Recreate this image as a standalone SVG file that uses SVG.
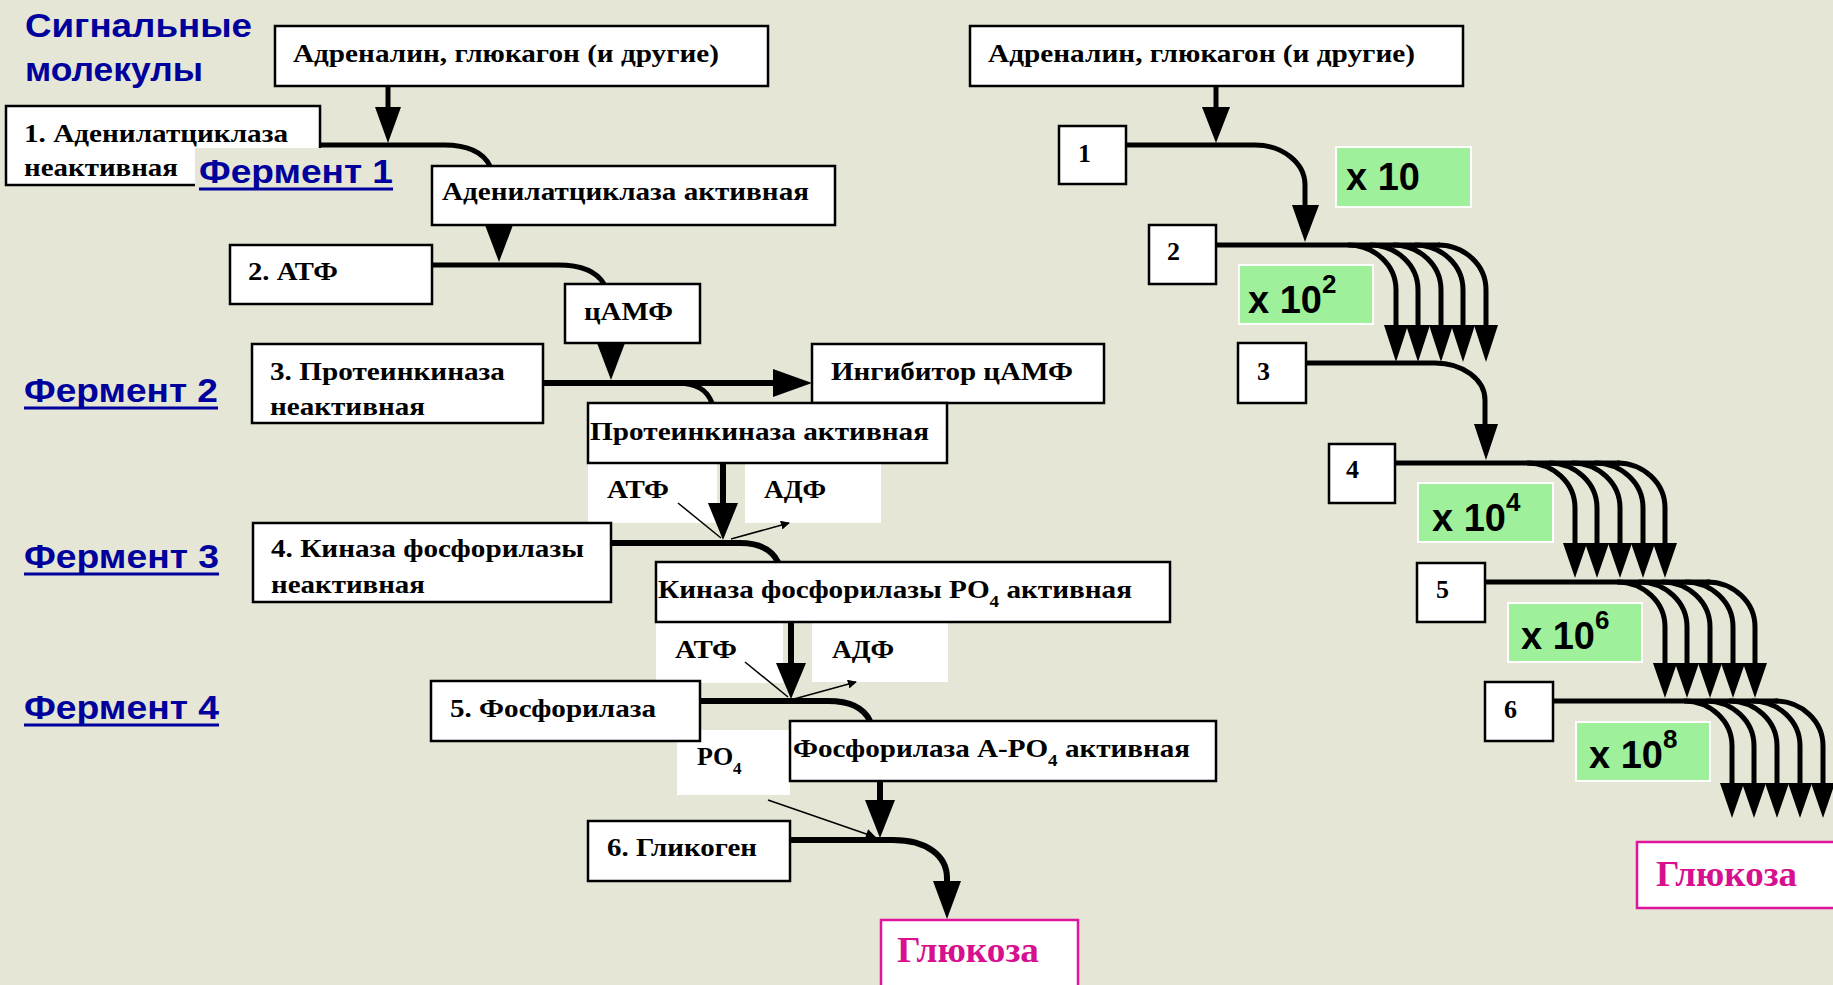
<svg xmlns="http://www.w3.org/2000/svg" width="1833" height="985" viewBox="0 0 1833 985">
<defs>
<style>
.bx{fill:#fff;stroke:#000;stroke-width:2.5}
.wh{fill:#fff;stroke:none}
.gr{fill:#9ef09a;stroke:#fff;stroke-width:2}
.t{font-family:"Liberation Serif","Times New Roman",serif;font-weight:bold;font-size:26px;fill:#000}
.g{font-family:"Liberation Sans",Arial,sans-serif;font-weight:bold;font-size:38px;fill:#000}
.sup{font-size:26px}
.bl{font-family:"Liberation Sans",Arial,sans-serif;font-weight:bold;font-size:34px;fill:#00009c}
.ul{stroke:#00009c;stroke-width:3}
.gl{font-family:"Liberation Serif","Times New Roman",serif;font-weight:bold;font-size:35px;fill:#d6108f}
.mg{fill:#fff;stroke:#e0139b;stroke-width:2.5}
.c{fill:none;stroke:#000;stroke-width:5}
.c6{fill:none;stroke:#000;stroke-width:6}
.th{fill:none;stroke:#000;stroke-width:1.5}
.hd{fill:#000}
</style>
<marker id="sa" viewBox="0 0 10 10" refX="9" refY="5" markerWidth="9" markerHeight="9" markerUnits="userSpaceOnUse" orient="auto">
<path d="M0,0 L10,5 L0,10 z" fill="#000"/>
</marker>
<marker id="sb" viewBox="0 0 10 10" refX="9" refY="5" markerWidth="12" markerHeight="10" markerUnits="userSpaceOnUse" orient="auto">
<path d="M0,0 L10,5 L0,10 z" fill="#000"/>
</marker>
</defs>
<rect x="0" y="0" width="1833" height="985" fill="#e5e6d6"/>

<g id="title">
<text class="bl" x="25" y="37" textLength="227" lengthAdjust="spacingAndGlyphs">Сигнальные</text>
<text class="bl" x="25" y="81" textLength="178" lengthAdjust="spacingAndGlyphs">молекулы</text>
</g>

<!-- white label patches -->
<g id="labels-white">
<rect class="wh" x="588" y="463" width="129" height="60"/>
<rect class="wh" x="745" y="463" width="136" height="60"/>
<rect class="wh" x="656" y="622" width="127" height="61"/>
<rect class="wh" x="812" y="622" width="136" height="60"/>
<rect class="wh" x="677" y="730" width="113" height="65"/>
</g>

<g id="n-adr-left">
<rect class="bx" x="275" y="26" width="493" height="60"/>
<text class="t" x="293" y="62" textLength="426" lengthAdjust="spacingAndGlyphs">Адреналин, глюкагон (и другие)</text>
</g>
<g id="n1">
<rect class="bx" x="6" y="106" width="314" height="79"/>
<text class="t" x="24" y="142" textLength="264" lengthAdjust="spacingAndGlyphs">1. Аденилатциклаза</text>
<text class="t" x="24" y="176" textLength="154" lengthAdjust="spacingAndGlyphs">неактивная</text>
</g>
<g id="ferment1">
<rect x="195" y="148" width="203" height="48" fill="#e5e6d6"/>
<text class="bl" x="199" y="183" textLength="194" lengthAdjust="spacingAndGlyphs">Фермент 1</text>
<line class="ul" x1="199" y1="189" x2="393" y2="189"/>
</g>
<g id="n-ac-act">
<rect class="bx" x="432" y="166" width="403" height="59"/>
<text class="t" x="442" y="200" textLength="367" lengthAdjust="spacingAndGlyphs">Аденилатциклаза активная</text>
</g>
<g id="n2">
<rect class="bx" x="230" y="245" width="202" height="59"/>
<text class="t" x="248" y="280" textLength="90" lengthAdjust="spacingAndGlyphs">2. АТФ</text>
</g>
<g id="n-camp">
<rect class="bx" x="565" y="284" width="135" height="59"/>
<text class="t" x="584" y="320" textLength="89" lengthAdjust="spacingAndGlyphs">цАМФ</text>
</g>
<g id="ferment2">
<text class="bl" x="24" y="402" textLength="194" lengthAdjust="spacingAndGlyphs">Фермент 2</text>
<line class="ul" x1="24" y1="408" x2="218" y2="408"/>
</g>
<g id="n3">
<rect class="bx" x="252" y="344" width="291" height="79"/>
<text class="t" x="270" y="380" textLength="235" lengthAdjust="spacingAndGlyphs">3. Протеинкиназа</text>
<text class="t" x="270" y="415" textLength="155" lengthAdjust="spacingAndGlyphs">неактивная</text>
</g>
<g id="n-inhib">
<rect class="bx" x="812" y="344" width="292" height="59"/>
<text class="t" x="831" y="380" textLength="242" lengthAdjust="spacingAndGlyphs">Ингибитор цАМФ</text>
</g>
<g id="n-pk-act">
<rect class="bx" x="588" y="403" width="359" height="60"/>
<text class="t" x="590" y="440" textLength="339" lengthAdjust="spacingAndGlyphs">Протеинкиназа активная</text>
</g>
<g id="l-atf1"><text class="t" x="607" y="498" textLength="62" lengthAdjust="spacingAndGlyphs">АТФ</text></g>
<g id="l-adf1"><text class="t" x="764" y="498" textLength="62" lengthAdjust="spacingAndGlyphs">АДФ</text></g>
<g id="ferment3">
<text class="bl" x="24" y="568" textLength="195" lengthAdjust="spacingAndGlyphs">Фермент 3</text>
<line class="ul" x1="24" y1="574" x2="219" y2="574"/>
</g>
<g id="n4">
<rect class="bx" x="253" y="523" width="358" height="79"/>
<text class="t" x="271" y="557" textLength="313" lengthAdjust="spacingAndGlyphs">4. Киназа фосфорилазы</text>
<text class="t" x="271" y="593" textLength="154" lengthAdjust="spacingAndGlyphs">неактивная</text>
</g>
<g id="n-kf-act">
<rect class="bx" x="656" y="562" width="514" height="60"/>
<text class="t" x="658" y="598" textLength="474" lengthAdjust="spacingAndGlyphs">Киназа фосфорилазы PO<tspan font-size="17" dy="9">4</tspan><tspan dy="-9"> активная</tspan></text>
</g>
<g id="l-atf2"><text class="t" x="675" y="658" textLength="62" lengthAdjust="spacingAndGlyphs">АТФ</text></g>
<g id="l-adf2"><text class="t" x="832" y="658" textLength="62" lengthAdjust="spacingAndGlyphs">АДФ</text></g>
<g id="ferment4">
<text class="bl" x="24" y="719" textLength="195" lengthAdjust="spacingAndGlyphs">Фермент 4</text>
<line class="ul" x1="24" y1="725" x2="219" y2="725"/>
</g>
<g id="n5">
<rect class="bx" x="431" y="681" width="269" height="60"/>
<text class="t" x="450" y="717" textLength="206" lengthAdjust="spacingAndGlyphs">5. Фосфорилаза</text>
</g>
<g id="n-ph-act">
<rect class="bx" x="790" y="721" width="426" height="60"/>
<text class="t" x="793" y="757" textLength="397" lengthAdjust="spacingAndGlyphs">Фосфорилаза А-PO<tspan font-size="17" dy="9">4</tspan><tspan dy="-9"> активная</tspan></text>
</g>
<g id="l-po4"><text class="t" x="697" y="765">PO<tspan font-size="17" dy="9">4</tspan></text></g>
<g id="n6">
<rect class="bx" x="588" y="821" width="202" height="60"/>
<text class="t" x="607" y="856" textLength="150" lengthAdjust="spacingAndGlyphs">6. Гликоген</text>
</g>
<g id="n-glc-left">
<rect class="mg" x="881" y="920" width="197" height="80"/>
<text class="gl" x="897" y="962" textLength="142" lengthAdjust="spacingAndGlyphs">Глюкоза</text>
</g>

<!-- right side nodes -->
<g id="n-adr-right">
<rect class="bx" x="970" y="26" width="493" height="60"/>
<text class="t" x="988" y="62" textLength="427" lengthAdjust="spacingAndGlyphs">Адреналин, глюкагон (и другие)</text>
</g>
<g id="r1"><rect class="bx" x="1059" y="126" width="67" height="58"/><text class="t" x="1078" y="162">1</text></g>
<g id="r2"><rect class="bx" x="1149" y="225" width="67" height="59"/><text class="t" x="1167" y="260">2</text></g>
<g id="r3"><rect class="bx" x="1238" y="343" width="68" height="60"/><text class="t" x="1257" y="380">3</text></g>
<g id="r4"><rect class="bx" x="1329" y="444" width="66" height="59"/><text class="t" x="1346" y="478">4</text></g>
<g id="r5"><rect class="bx" x="1417" y="563" width="68" height="59"/><text class="t" x="1436" y="598">5</text></g>
<g id="r6"><rect class="bx" x="1485" y="682" width="68" height="59"/><text class="t" x="1504" y="718">6</text></g>
<g id="m1"><rect class="gr" x="1336" y="147" width="135" height="60"/><text class="g" x="1346" y="190">x 10</text></g>
<g id="m2"><rect class="gr" x="1239" y="265" width="134" height="59"/><text class="g" x="1248" y="313">x 10<tspan class="sup" dy="-20">2</tspan></text></g>
<g id="m4"><rect class="gr" x="1418" y="483" width="135" height="59"/><text class="g" x="1432" y="531">x 10<tspan class="sup" dy="-20">4</tspan></text></g>
<g id="m6"><rect class="gr" x="1508" y="603" width="134" height="59"/><text class="g" x="1521" y="649">x 10<tspan class="sup" dy="-20">6</tspan></text></g>
<g id="m8"><rect class="gr" x="1576" y="722" width="134" height="59"/><text class="g" x="1589" y="768">x 10<tspan class="sup" dy="-20">8</tspan></text></g>
<g id="n-glc-right">
<rect class="mg" x="1637" y="842" width="210" height="66"/>
<text class="gl" x="1656" y="886" textLength="141" lengthAdjust="spacingAndGlyphs">Глюкоза</text>
</g>

<g id="connectors">
<!-- left cascade -->
<path class="c" d="M388,86 V110"/>
<polygon class="hd" points="375,107 401,107 388,143"/>
<path class="c" d="M320,145 H444 C468,145 483,152 490,166"/>
<polygon class="hd" points="485,225 513,225 499,262"/>
<path class="c" d="M432,265 H558 C583,265 597,272 604,284"/>
<polygon class="hd" points="597,343 625,343 611,380"/>
<path class="c6" d="M543,383 H776"/>
<polygon class="hd" points="773,369 812,383 773,397"/>
<path class="c" d="M676,383 C697,383 707,390 712,403"/>
<path class="c6" d="M723,463 V506"/>
<polygon class="hd" points="708,503 738,503 723,540"/>
<path class="th" d="M678,503 L721,538"/>
<path class="th" d="M731,539 L789,523" marker-end="url(#sa)"/>
<path class="c6" d="M611,543 H740 C760,543 772,550 778,562"/>
<path class="c6" d="M791,622 V665"/>
<polygon class="hd" points="776,663 806,663 791,699"/>
<path class="th" d="M745,662 L788,697"/>
<path class="th" d="M794,699 L856,682" marker-end="url(#sa)"/>
<path class="c6" d="M700,701 H828 C850,701 864,708 870,721"/>
<path class="c6" d="M880,781 V803"/>
<polygon class="hd" points="865,800 895,800 880,838"/>
<path class="th" d="M768,800 L875,837" marker-end="url(#sb)"/>
<path class="c6" d="M790,840 H893 C927,840 947,856 947,878 V885"/>
<polygon class="hd" points="933,881 961,881 947,919"/>

<!-- right cascade -->
<path class="c" d="M1216,86 V110"/>
<polygon class="hd" points="1202,107 1230,107 1216,143"/>
<path class="c" d="M1126,145 H1255 A50,40 0 0 1 1305,185 V207"/>
<polygon class="hd" points="1292,205 1319,205 1305,242"/>

<path class="c" d="M1216,245 H1440"/>
<path class="c" d="M1348,245 A48,45 0 0 1 1396,290 V327 M1370,245 A48,45 0 0 1 1418,290 V327 M1393,245 A48,45 0 0 1 1441,290 V327 M1415,245 A48,45 0 0 1 1463,290 V327 M1438,245 A48,45 0 0 1 1486,290 V327"/>
<polygon class="hd" points="1384,325 1408,325 1396,362"/>
<polygon class="hd" points="1406,325 1430,325 1418,362"/>
<polygon class="hd" points="1429,325 1453,325 1441,362"/>
<polygon class="hd" points="1451,325 1475,325 1463,362"/>
<polygon class="hd" points="1474,325 1498,325 1486,362"/>

<path class="c" d="M1306,363 H1435 A50,37 0 0 1 1485,400 V426"/>
<polygon class="hd" points="1474,424 1498,424 1486,460"/>

<path class="c" d="M1395,463 H1620"/>
<path class="c" d="M1527,463 A48,45 0 0 1 1575,508 V545 M1549,463 A48,45 0 0 1 1597,508 V545 M1572,463 A48,45 0 0 1 1620,508 V545 M1595,463 A48,45 0 0 1 1643,508 V545 M1617,463 A48,45 0 0 1 1665,508 V545"/>
<polygon class="hd" points="1563,543 1587,543 1575,578"/>
<polygon class="hd" points="1585,543 1609,543 1597,578"/>
<polygon class="hd" points="1608,543 1632,543 1620,578"/>
<polygon class="hd" points="1631,543 1655,543 1643,578"/>
<polygon class="hd" points="1653,543 1677,543 1665,578"/>

<path class="c" d="M1485,582 H1710"/>
<path class="c" d="M1617,582 A48,45 0 0 1 1665,627 V665 M1639,582 A48,45 0 0 1 1687,627 V665 M1662,582 A48,45 0 0 1 1710,627 V665 M1685,582 A48,45 0 0 1 1733,627 V665 M1707,582 A48,45 0 0 1 1755,627 V665"/>
<polygon class="hd" points="1653,663 1677,663 1665,698"/>
<polygon class="hd" points="1675,663 1699,663 1687,698"/>
<polygon class="hd" points="1698,663 1722,663 1710,698"/>
<polygon class="hd" points="1721,663 1745,663 1733,698"/>
<polygon class="hd" points="1743,663 1767,663 1755,698"/>

<path class="c" d="M1553,701 H1778"/>
<path class="c" d="M1684,701 A48,45 0 0 1 1732,746 V785 M1706,701 A48,45 0 0 1 1754,746 V785 M1729,701 A48,45 0 0 1 1777,746 V785 M1752,701 A48,45 0 0 1 1800,746 V785 M1775,701 A48,45 0 0 1 1823,746 V785"/>
<polygon class="hd" points="1720,783 1744,783 1732,818"/>
<polygon class="hd" points="1742,783 1766,783 1754,818"/>
<polygon class="hd" points="1765,783 1789,783 1777,818"/>
<polygon class="hd" points="1788,783 1812,783 1800,818"/>
<polygon class="hd" points="1811,783 1835,783 1823,818"/>
</g>
</svg>
